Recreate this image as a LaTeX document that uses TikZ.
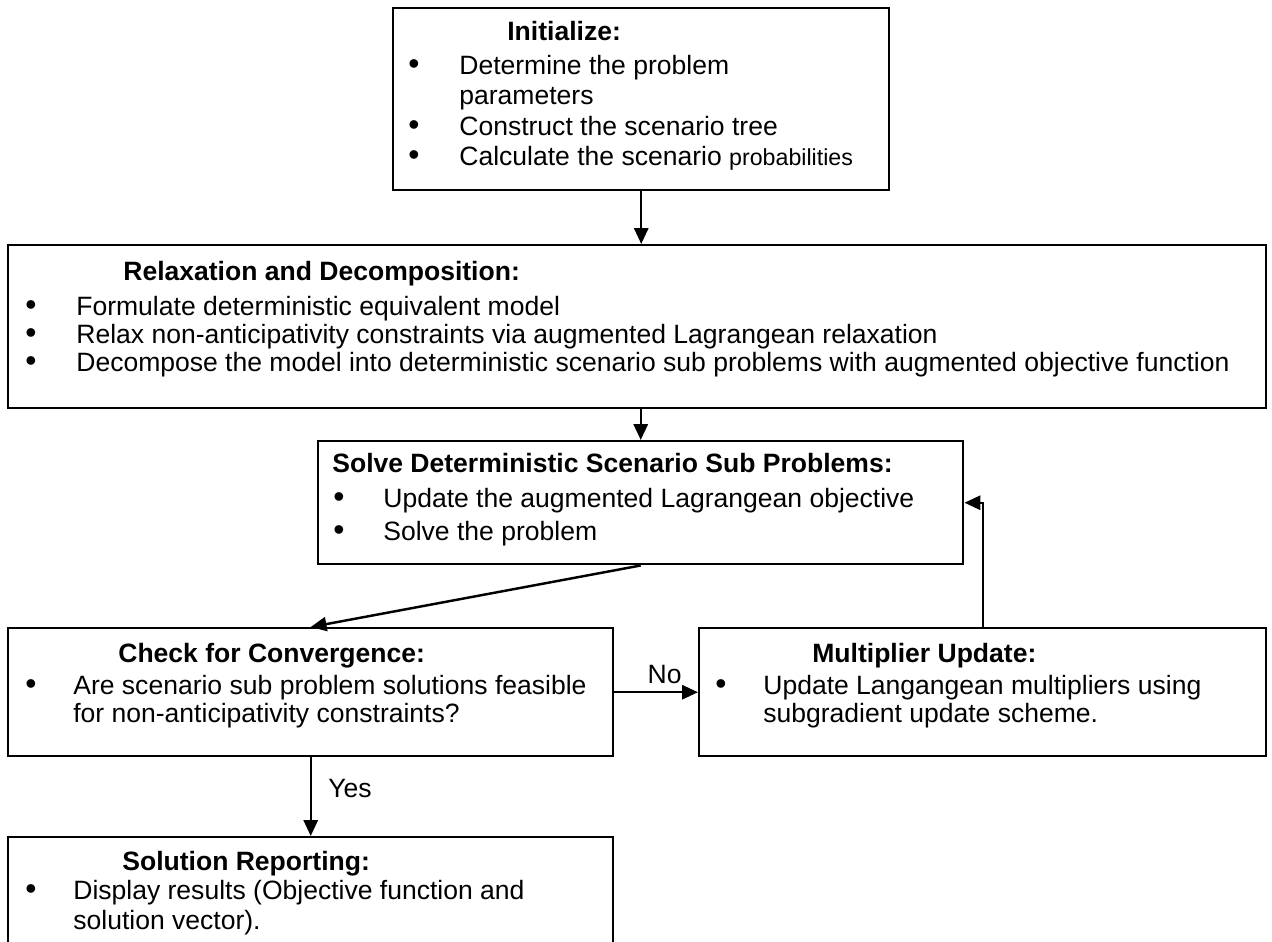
\documentclass[tikz,border=0pt]{standalone}
\usepackage{fontspec}
\setmainfont{Liberation Sans}
\usepackage{tikz}
\usetikzlibrary{arrows.meta,positioning}

\newlength\pxu
\setlength\pxu{0.02cm}
\newcommand\bul[1]{\makebox[#1\pxu][l]{\scalebox{1.2}{\textbullet}}}
\newcommand\ind[1]{\hspace*{#1\pxu}}

\begin{document}
\begin{tikzpicture}[
    x=0.02cm, y=-0.02cm,
    box/.style={draw, rectangle, line width=1.4pt, anchor=north west, inner sep=0pt},
    txt/.style={anchor=north west, align=left, inner sep=0pt, font=\fontsize{15.1}{15.9}\selectfont},
    lbl/.style={font=\fontsize{15.1}{15.9}\selectfont},
    arrow/.style={-{Triangle[length=9pt,width=8pt]}, line width=1.4pt}
]
\useasboundingbox (0,0) rectangle (1272,941);

% boxes
\node[box, minimum width=496\pxu, minimum height=182\pxu] (init) at (392,7) {};
\node[box, minimum width=1258\pxu, minimum height=163\pxu] (relax) at (7,244) {};
\node[box, minimum width=645\pxu, minimum height=123\pxu] (solve) at (317,440) {};
\node[box, minimum width=605\pxu, minimum height=128\pxu] (check) at (7,627) {};
\node[box, minimum width=567\pxu, minimum height=128\pxu] (mult) at (698,627) {};
\node[box, minimum width=605\pxu, minimum height=140\pxu] (report) at (7,836) {};

% texts
\node[txt] (initT) at (408,21) {\ind{99}\textbf{Initialize:}\\[6\pxu]
  \bul{51}Determine the problem\\[2\pxu]
  \ind{51}parameters\\[3\pxu]
  \bul{51}Construct the scenario tree\\[2\pxu]
  \bul{51}Calculate the scenario {\fontsize{13.2}{15.9}\selectfont probabilities}};
\node[txt] (relaxT) at (25,261) {\ind{98}\textbf{Relaxation and Decomposition:}\\[7\pxu]
  \bul{51}Formulate deterministic equivalent model\\
  \bul{51}Relax non-anticipativity constraints via augmented Lagrangean relaxation\\
  \bul{51}Decompose the model into deterministic scenario sub problems with augmented objective function};
\node[txt] (solveT) at (332,453) {\textbf{Solve Deterministic Scenario Sub Problems:}\\[7\pxu]
  \ind{1}\bul{50}Update the augmented Lagrangean objective\\[5\pxu]
  \ind{1}\bul{50}Solve the problem};
\node[txt] (checkT) at (25,643) {\ind{93}\textbf{Check for Convergence:}\\[4\pxu]
  \bul{48}Are scenario sub problem solutions feasible\\
  \ind{48}for non-anticipativity constraints?};
\node[txt] (multT) at (715,643) {\ind{97}\textbf{Multiplier Update:}\\[4\pxu]
  \bul{48}Update Langangean multipliers using\\
  \ind{48}subgradient update scheme.};
\node[txt] (reportT) at (25,851) {\ind{97}\textbf{Solution Reporting:}\\[1\pxu]
  \bul{48}Display results (Objective function and\\[2\pxu]
  \ind{48}solution vector).};

% connectors
\draw[arrow] (init.south) -- (init.south |- relax.north);
\draw[arrow] (solve.north |- relax.south) -- (solve.north);
\draw[arrow] (solve.south) -- (check.north);
\draw[arrow] (check.east) -- node[lbl, above, pos=0.6, inner sep=4pt] (no) {No} (mult.west);
\draw[arrow] (mult.north) |- (solve.east);
\draw[arrow] (check.south) -- node[lbl, right, pos=0.4, xshift=6pt] (yes) {Yes} (report.north);

\end{tikzpicture}
\end{document}
